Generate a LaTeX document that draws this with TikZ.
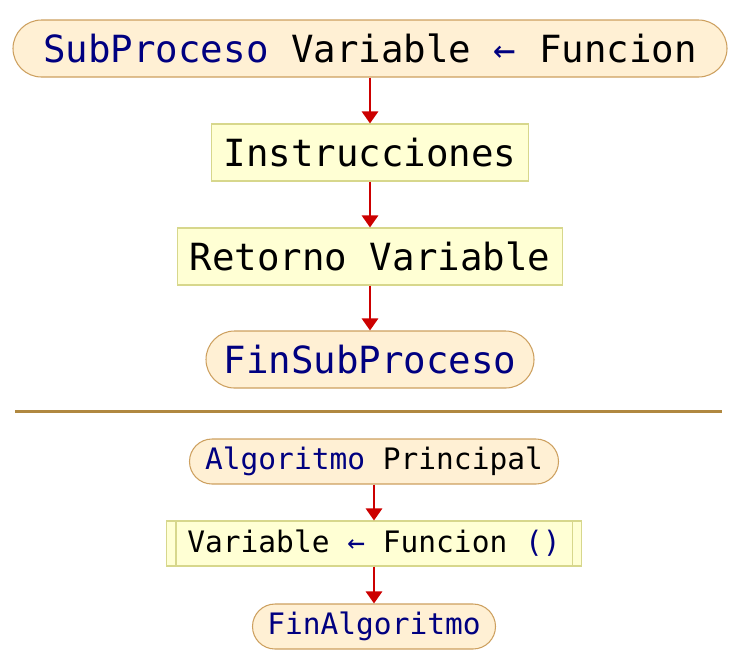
\documentclass[tikz,border=0pt]{standalone}
\usepackage{fontspec}
\usetikzlibrary{arrows.meta}
\newfontfamily\codefont{DejaVu Sans Mono}

\definecolor{termfill}{RGB}{255,240,212}
\definecolor{termdraw}{RGB}{205,160,95}
\definecolor{procfill}{RGB}{255,255,212}
\definecolor{procdraw}{RGB}{215,215,140}
\definecolor{kwblue}{RGB}{0,0,128}
\definecolor{flowred}{RGB}{204,0,0}
\definecolor{sepline}{RGB}{176,136,64}

\tikzset{
  termbox/.style={draw=termdraw, fill=termfill, line width=0.6pt, inner sep=0pt, minimum height=1.14cm, rounded corners=0.57cm},
  procbox/.style={draw=procdraw, fill=procfill, line width=0.6pt, inner sep=0pt, minimum height=1.14cm},
  bigtext/.style={font=\codefont\fontsize{21.3}{24}\selectfont},
  smalltext/.style={font=\codefont\fontsize{16.8}{19}\selectfont},
  flow/.style={draw=flowred, line width=1.6pt, -{Triangle[width=0.32cm, length=0.24cm]}},
}

\begin{document}
\begin{tikzpicture}

    \useasboundingbox (0,0) rectangle (14.7,-13.18);

    % SubProceso
    \node[termbox, bigtext, minimum width=14.28cm] (subproc) at (7.4,-0.97) {\textcolor{kwblue}{SubProceso} Variable \textcolor{kwblue}{←} Funcion\hspace{0.2cm}};
    \node[procbox, bigtext, minimum width=6.34cm] (instr) at (7.4,-3.05) {Instrucciones};
    \node[procbox, bigtext, minimum width=7.7cm] (retorno) at (7.4,-5.13) {Retorno Variable};
    \node[termbox, bigtext, minimum width=6.56cm] (finsub) at (7.4,-7.19) {\textcolor{kwblue}{FinSubProceso}};

    \draw[flow] (subproc) -- (instr);
    \draw[flow] (instr) -- (retorno);
    \draw[flow] (retorno) -- (finsub);

    % Separator
    \coordinate (sepleft) at (0.3,-8.22);
    \coordinate (sepright) at (14.44,-8.22);
    \draw[sepline, line width=1.7pt] (sepleft) -- (sepright);

    % Algoritmo
    \node[termbox, smalltext, minimum width=7.38cm, minimum height=0.9cm, rounded corners=0.45cm] (alg) at (7.48,-9.23) {\textcolor{kwblue}{Algoritmo} Principal};
    \node[procbox, smalltext, minimum width=8.3cm, minimum height=0.9cm] (call) at (7.48,-10.87) {Variable \textcolor{kwblue}{←} Funcion \textcolor{kwblue}{()}};
    \draw[procdraw, line width=0.6pt] ([xshift=0.2cm]call.north west) -- ([xshift=0.2cm]call.south west);
    \draw[procdraw, line width=0.6pt] ([xshift=-0.2cm]call.north east) -- ([xshift=-0.2cm]call.south east);
    \node[termbox, smalltext, minimum width=4.86cm, minimum height=0.9cm, rounded corners=0.45cm] (finalg) at (7.48,-12.53) {\textcolor{kwblue}{FinAlgoritmo}};

    \draw[flow] (alg) -- (call);
    \draw[flow] (call) -- (finalg);

\end{tikzpicture}
\end{document}
